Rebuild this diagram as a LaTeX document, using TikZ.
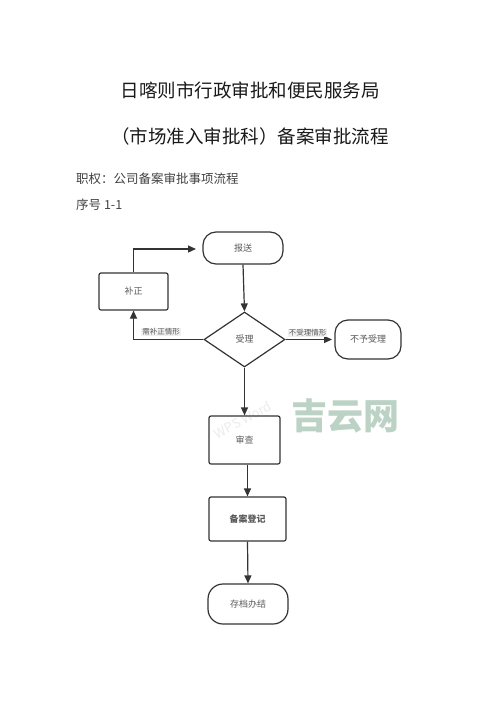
\documentclass[tikz,border=0pt]{standalone}
\usepackage{fontspec}
\setmainfont{Noto Sans CJK SC}
\usetikzlibrary{shapes.geometric,arrows.meta}
\definecolor{linegray}{HTML}{333333}
\definecolor{wmgreen}{HTML}{BCD2C5}
\tikzset{
    boxnode/.style={draw=linegray,line width=1.2pt,rounded corners=2pt,inner sep=0pt,text=black!65,font=\fontsize{9}{10}\selectfont},
    pillnode/.style={boxnode,rounded corners=13pt},
    choicenode/.style={draw=linegray,line width=1.2pt,diamond,aspect=1.47,inner sep=0pt,text=black!65,font=\fontsize{9}{10}\selectfont},
    edgetext/.style={fill=black!6,inner sep=1pt,text=black!65,font=\fontsize{7.5}{8}\selectfont},
    flow/.style={draw=linegray,line width=1.2pt,-{Triangle[length=8pt,width=7pt]}},
    headline/.style={font=\fontsize{18.5}{20}\selectfont,text=black!90,inner sep=0pt},
    bodyline/.style={font=\fontsize{12.5}{14}\selectfont,text=black!75,inner sep=0pt,anchor=west}
}
\begin{document}
\begin{tikzpicture}[x=1pt,y=-1pt]
    \useasboundingbox (0,0) rectangle (500,707);
    \node[headline] (title1) at (250,90.5) {日喀则市行政审批和便民服务局};
    \node[headline] (title2) at (250,136.5) {（市场准入审批科）备案审批流程};
    \node[bodyline] (scope1) at (76,178.5) {职权：公司备案审批事项流程};
    \node[bodyline] (serial) at (76,204.5) {序号 1-1};

    \node[rotate=28,font=\fontsize{13}{14}\selectfont,text=black!8,inner sep=0pt] (faintmark) at (243,420) {WPS Word};

    \node[pillnode,minimum width=80pt,minimum height=32pt] (report) at (243,248) {报送};
    \node[boxnode,minimum width=69pt,minimum height=37pt] (fix) at (133.5,291.5) {补正};
    \node[choicenode,minimum width=81pt,minimum height=55pt] (accept) at (244.5,339.5) {受理};
    \node[pillnode,minimum width=66pt,minimum height=39pt] (reject) at (368,339.5) {不予受理};
    \node[boxnode,minimum width=71pt,minimum height=48pt] (review) at (244.5,440) {审查};
    \node[boxnode,minimum width=77pt,minimum height=44pt,font=\fontsize{9}{10}\bfseries\selectfont] (record) at (247.5,519) {备案登记};
    \node[pillnode,rounded corners=15pt,minimum width=80pt,minimum height=40pt] (archive) at (248,604) {存档办结};

    \coordinate (reportin) at (196,249);
    \coordinate (rejectin) at (332,339.5);

    \draw[flow] (fix.north) |- (reportin);
    \draw[flow] (report.south) -- (accept.north);
    \draw[flow] (accept.west) -| (fix.south);
    \draw[flow] (accept.east) -- (rejectin);
    \draw[flow] (accept.south) -- (review.north);
    \draw[flow] (record.north |- review.south) -- (record.north);
    \draw[flow] (record.south) -- (archive.north);

    \node[edgetext] (fixtext) at (161,332) {需补正情形};
    \node[edgetext] (rejecttext) at (307.5,333) {不受理情形};

    \node[font=\fontsize{36}{38}\bfseries\selectfont,text=wmgreen,inner sep=0pt] (stamp) at (345,416) {吉云网};
\end{tikzpicture}
\end{document}
